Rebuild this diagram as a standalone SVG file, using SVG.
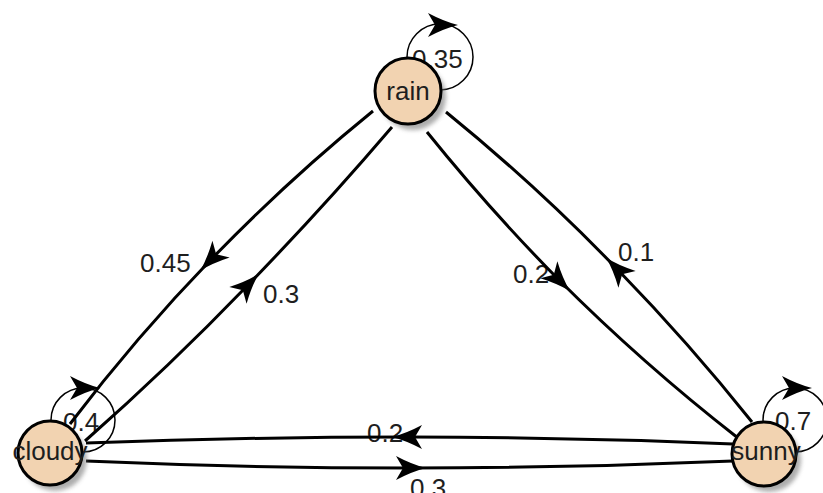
<svg xmlns="http://www.w3.org/2000/svg" xmlns:xlink="http://www.w3.org/1999/xlink" width="823" height="493" viewBox="0 0 823 493">
<style>
.edge{fill:none;stroke:#000;stroke-width:3;marker-mid:url(#arr)}
.loop{fill:none;stroke:#000;stroke-width:1.5}
.lbl{font-family:"Liberation Sans",Arial,sans-serif;font-size:26px;fill:#1e1e1e}
.node circle.body{fill:#f2d3b1;stroke:#000;stroke-width:3}
.node circle.shadow{fill:#777;opacity:0.6;filter:url(#blur)}
.node text{font-family:"Liberation Sans",Arial,sans-serif;font-size:26px;fill:#1e1e1e;text-anchor:middle}
</style>
<defs>
<filter id="blur" x="-30%" y="-30%" width="160%" height="160%"><feGaussianBlur stdDeviation="2"/></filter>
<path id="ah" d="M17,0 Q3,-3.5 -13,-12 L-6,0 L-13,12 Q3,3.5 17,0 Z" fill="#000"/>
<marker id="arr" markerUnits="userSpaceOnUse" viewBox="-18 -14 38 28" markerWidth="38" markerHeight="28" refX="0" refY="0" orient="auto">
<use xlink:href="#ah"/>
</marker>
</defs>
<rect width="823" height="493" fill="#fff"/>
<g id="loops">
<circle class="loop" cx="440" cy="57" r="33"/>
<use xlink:href="#ah" transform="translate(441,25)"/>
<text class="lbl" x="412" y="68">0.35</text>
<circle class="loop" cx="83" cy="420" r="32"/>
<use xlink:href="#ah" transform="translate(83,388)"/>
<text class="lbl" x="63" y="431">0.4</text>
<circle class="loop" cx="795" cy="420" r="32"/>
<use xlink:href="#ah" transform="translate(795,388)"/>
<text class="lbl" x="775" y="430">0.7</text>
</g>
<g id="edge-labels">
<text class="lbl" x="140" y="272">0.45</text>
<text class="lbl" x="263" y="303">0.3</text>
<text class="lbl" x="513" y="283">0.2</text>
<text class="lbl" x="618" y="261">0.1</text>
<text class="lbl" x="367" y="442">0.2</text>
<text class="lbl" x="410" y="497">0.3</text>
</g>
<g id="connectors">
<path class="edge" d="M373,111 Q288,180 212,258.5 Q136,337 70,424"/>
<path class="edge" d="M85,441 Q169,367 247,286 Q322,209 392,127"/>
<path class="edge" d="M427,132 Q489,209 558,279 Q643,364 738,438"/>
<path class="edge" d="M752,422 Q689,343 618,270 Q537,186 446,112"/>
<path class="edge" d="M733,444 Q571,437 409,437 Q247,437 86,443"/>
<path class="edge" d="M86,461 Q248,468 409,468 Q571,468 733,461"/>
</g>
<g id="rain" class="node">
<circle class="shadow" cx="413" cy="97" r="33"/>
<circle class="body" cx="408" cy="91" r="33"/>
<text x="408" y="100">rain</text>
</g>
<g id="cloudy" class="node">
<circle class="shadow" cx="55" cy="459" r="32"/>
<circle class="body" cx="50" cy="453" r="32"/>
<text x="50" y="460">cloudy</text>
</g>
<g id="sunny" class="node">
<circle class="shadow" cx="769" cy="460" r="32"/>
<circle class="body" cx="764" cy="454" r="32"/>
<text x="766" y="460">sunny</text>
</g>
</svg>
